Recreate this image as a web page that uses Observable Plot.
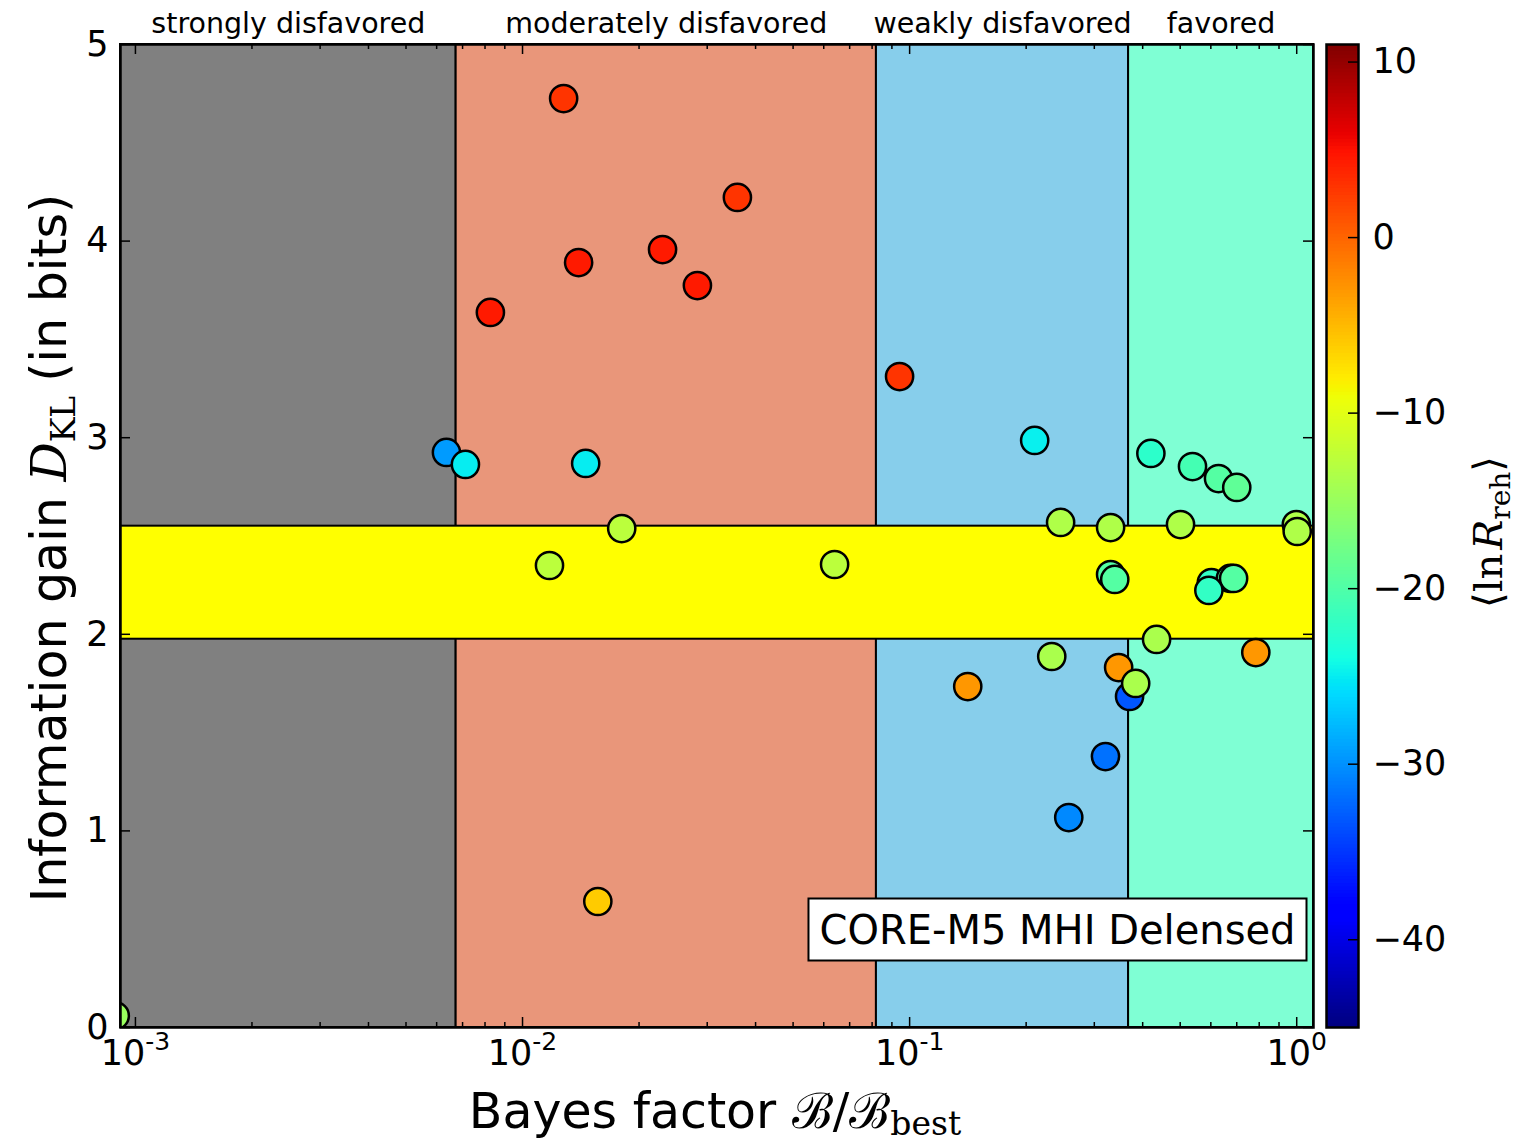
<!DOCTYPE html>
<html>
<head>
<meta charset="utf-8">
<script src="https://cdn.jsdelivr.net/npm/d3@7"></script>
<script src="https://cdn.jsdelivr.net/npm/@observablehq/plot@0.6"></script>
<style>
  html, body { margin: 0; padding: 0; background: white; }
  #wrap { position: relative; width: 1524px; height: 1143px; }
  #wrap svg { position: absolute; left: 0; top: 0; }
</style>
</head>
<body>
<div id="wrap"></div>
<script>
// ---------------- data ----------------
const bayesFactor = [0.01277, 0.0359, 0.01396, 0.0230, 0.0283, 0.00826, 0.0942,
  0.00636, 0.00712, 0.01456, 0.01804, 0.01174, 0.0640, 0.01565, 0.000887,
  0.2104, 0.420, 0.538, 0.628, 0.700, 0.2455, 0.3305, 0.501, 0.998, 1.003,
  0.3305, 0.3388, 0.602, 0.674, 0.687, 0.593, 0.4345, 0.2329, 0.784, 0.3467,
  0.370, 0.3837, 0.3206, 0.2577, 0.1413];
const infoGain = [4.725, 4.222, 3.891, 3.957, 3.774, 3.637, 3.311,
  2.925, 2.864, 2.869, 2.538, 2.350, 2.355, 0.641, 0.06,
  2.986, 2.920, 2.853, 2.792, 2.747, 2.569, 2.543, 2.558, 2.558, 2.523,
  2.304, 2.279, 2.263, 2.284, 2.284, 2.223, 1.974, 1.887, 1.907, 1.831,
  1.684, 1.750, 1.378, 1.068, 1.734];
const lnRreh = [2.9, 2.9, 4.4, 4.4, 4.4, 4.4, 2.9,
  -29.5, -25, -25, -12.7, -12.7, -12.7, -6.1, -15,
  -24.8, -22.4, -20.8, -19.7, -18.9, -13.5, -13.5, -13.5, -13.5, -13.5,
  -19.7, -19.7, -22, -19.7, -19.7, -22, -13.8, -13.8, -3, -3,
  -33.3, -13.8, -31.8, -30.5, -3];

const lnBThresholds = [-5, -2.5, -1];
const regionNames = ["strongly disfavored", "moderately disfavored", "weakly disfavored", "favored"];
const regionColors = ["#808080", "#E9967A", "#87CEEB", "#7FFFD4"];
const bandRange = [1.975, 2.55];
const xDomain = [9.15e-4, 1.105];
const yDomain = [0, 5];
const yTicks = [0, 1, 2, 3, 4, 5];
const xMajor = [1e-3, 1e-2, 1e-1, 1];
const colorDomain = [-45, 11];
const cbTicks = [-40, -30, -20, -10, 0, 10];
const boxLabel = "CORE-M5 MHI Delensed";

// ---------------- helpers ----------------
const xMinor = [];
for (const base of [1e-3, 1e-2, 1e-1]) for (let k = 2; k <= 9; k++) xMinor.push(k * base);

function pw(t, stops) {
  for (let i = 1; i < stops.length; i++) {
    if (t <= stops[i][0]) {
      const [t0, v0] = stops[i - 1], [t1, v1] = stops[i];
      return v0 + (v1 - v0) * (t - t0) / (t1 - t0);
    }
  }
  return stops[stops.length - 1][1];
}
function jet(t) {
  t = Math.max(0, Math.min(1, t));
  const r = pw(t, [[0, 0], [0.35, 0], [0.66, 1], [0.89, 1], [1, 0.5]]);
  const g = pw(t, [[0, 0], [0.125, 0], [0.375, 1], [0.64, 1], [0.91, 0], [1, 0]]);
  const b = pw(t, [[0, 0.5], [0.11, 1], [0.34, 1], [0.65, 0], [1, 0]]);
  return `rgb(${Math.round(r * 255)},${Math.round(g * 255)},${Math.round(b * 255)})`;
}
const colorScale = {type: "linear", domain: colorDomain, interpolate: jet};

const points = bayesFactor.map((b, i) => ({B: b, D: infoGain[i], c: lnRreh[i]}));
const edges = [xDomain[0], ...lnBThresholds.map(Math.exp), xDomain[1]];
const regions = regionNames.map((name, i) => ({name, x1: edges[i], x2: edges[i + 1], fill: regionColors[i]}));

const W = 1524, H = 1143;
const mL = 120, mR = 211, mT = 44, mB = 116;
const fw = W - mL - mR, fh = H - mT - mB;
const fmtPow = d => "10|" + Math.round(Math.log10(d));

const main = Plot.plot({
  width: W, height: H,
  marginLeft: mL, marginRight: mR, marginTop: mT, marginBottom: mB,
  style: {fontFamily: "DejaVu Sans", background: "white", overflow: "visible"},
  x: {type: "log", domain: xDomain, label: null},
  y: {domain: yDomain, label: null},
  color: colorScale,
  marks: [
    Plot.rect(regions, {x1: "x1", x2: "x2", y1: yDomain[0], y2: yDomain[1], fill: "fill", stroke: "black", strokeWidth: 2}),
    Plot.rect([bandRange], {x1: xDomain[0], x2: xDomain[1], y1: d => d[0], y2: d => d[1], fill: "#ffff00", stroke: "black", strokeWidth: 2}),
    Plot.dot(points, {x: "B", y: "D", fill: "c", r: 13.6, stroke: "black", strokeWidth: 2.5, clip: true}),
    // inward ticks
    Plot.tickX(xMajor, {x: d => d, insetTop: fh - 10, stroke: "black", strokeWidth: 1.5}),
    Plot.tickX(xMajor, {x: d => d, insetBottom: fh - 10, stroke: "black", strokeWidth: 1.5}),
    Plot.tickX(xMinor, {x: d => d, insetTop: fh - 5, stroke: "black", strokeWidth: 1.5}),
    Plot.tickX(xMinor, {x: d => d, insetBottom: fh - 5, stroke: "black", strokeWidth: 1.5}),
    Plot.tickY(yTicks, {y: d => d, insetRight: fw - 10, stroke: "black", strokeWidth: 1.5}),
    Plot.tickY(yTicks, {y: d => d, insetLeft: fw - 10, stroke: "black", strokeWidth: 1.5}),
    Plot.axisX({ticks: xMajor, tickSize: 0, tickPadding: 13, tickFormat: fmtPow, fontSize: 35, label: null}),
    Plot.axisY({ticks: yTicks, tickSize: 0, tickPadding: 12, tickFormat: d => String(d), fontSize: 35, label: null}),
    Plot.text(regions, {x: d => Math.sqrt(d.x1 * d.x2), y: yDomain[1], dy: -21, text: "name", fontSize: 28.5, fill: "black"}),
    Plot.text([boxLabel], {frameAnchor: "bottom-right", dx: -18, dy: -84, text: d => d, fontSize: 40, textAnchor: "end", fill: "black"}),
    Plot.frame({stroke: "black", strokeWidth: 2.5})
  ]
});

const cbL = 1326, cbR = W - 1358;
const cbStep = 0.2;
const cbBands = d3.range(colorDomain[0], colorDomain[1], cbStep);
const bar = Plot.plot({
  width: W, height: H,
  marginLeft: cbL, marginRight: cbR, marginTop: mT, marginBottom: mB,
  style: {fontFamily: "DejaVu Sans", background: "transparent", overflow: "visible"},
  x: {domain: [0, 1], axis: null},
  y: {domain: colorDomain, axis: null},
  color: colorScale,
  marks: [
    Plot.rect(cbBands, {x1: 0, x2: 1, y1: d => d, y2: d => Math.min(d + cbStep * 1.5, colorDomain[1]), fill: d => d + cbStep / 2}),
    Plot.tickY(cbTicks, {y: d => d, insetLeft: (W - cbL - cbR) - 10, stroke: "black", strokeWidth: 1.5}),
    Plot.axisY({anchor: "right", ticks: cbTicks, tickSize: 0, tickPadding: 14, fontSize: 35, label: null,
      tickFormat: d => d < 0 ? "\u2212" + (-d) : String(d)}),
    Plot.frame({stroke: "black", strokeWidth: 2.5})
  ]
});

const wrap = document.getElementById("wrap");
wrap.appendChild(main);
wrap.appendChild(bar);

const svg = d3.select(main);

// ---- superscript exponents on the x tick labels ----
svg.selectAll("text").each(function () {
  const s = this.textContent;
  if (s.startsWith("10|")) {
    const exp = s.split("|")[1];
    d3.select(this).text(null);
    d3.select(this).append("tspan").text("10");
    d3.select(this).append("tspan").attr("dy", -15).attr("font-size", 25).text(exp);
  }
});

// ---- text box behind the label ----
svg.selectAll("text").each(function () {
  if (this.textContent === boxLabel) {
    const bb = this.getBBox();
    const rect = document.createElementNS("http://www.w3.org/2000/svg", "rect");
    rect.setAttribute("x", bb.x - 11);
    rect.setAttribute("y", bb.y - 8);
    rect.setAttribute("width", bb.width + 22);
    rect.setAttribute("height", bb.height + 16);
    rect.setAttribute("fill", "white");
    rect.setAttribute("stroke", "black");
    rect.setAttribute("stroke-width", 2);
    const tr = this.getAttribute("transform");
    if (tr) rect.setAttribute("transform", tr);
    this.parentNode.insertBefore(rect, this);
  }
});

// ---- axis titles with math ----
const xl = svg.append("text").attr("x", 715).attr("y", 1128).attr("text-anchor", "middle")
  .attr("font-size", 49).attr("font-family", "DejaVu Sans").attr("fill", "black");
xl.append("tspan").text("Bayes factor ");
xl.append("tspan").attr("font-family", "DejaVu Serif").text("ℬ/ℬ");
xl.append("tspan").attr("font-family", "DejaVu Serif").attr("font-size", 33).attr("dy", 7).text("best");

const yl = svg.append("text").attr("transform", "translate(66,548) rotate(-90)").attr("text-anchor", "middle")
  .attr("font-size", 49).attr("font-family", "DejaVu Sans").attr("fill", "black");
yl.append("tspan").text("Information gain ");
yl.append("tspan").attr("font-family", "DejaVu Serif").attr("font-style", "italic").text("D");
yl.append("tspan").attr("font-family", "DejaVu Serif").attr("font-size", 33).attr("dy", 9).text("KL");
yl.append("tspan").attr("dy", -9).attr("dx", 14).text("(in bits)");

const cl = d3.select(bar).append("text").attr("transform", "translate(1502,532) rotate(-90)").attr("text-anchor", "middle")
  .attr("font-size", 40).attr("font-family", "DejaVu Serif").attr("fill", "black");
cl.append("tspan").text("⟨ln");
cl.append("tspan").attr("font-style", "italic").attr("dx", 4).text("R");
cl.append("tspan").attr("font-size", 28).attr("dy", 8).text("reh");
cl.append("tspan").attr("dy", -8).text("⟩");
</script>
</body>
</html>
